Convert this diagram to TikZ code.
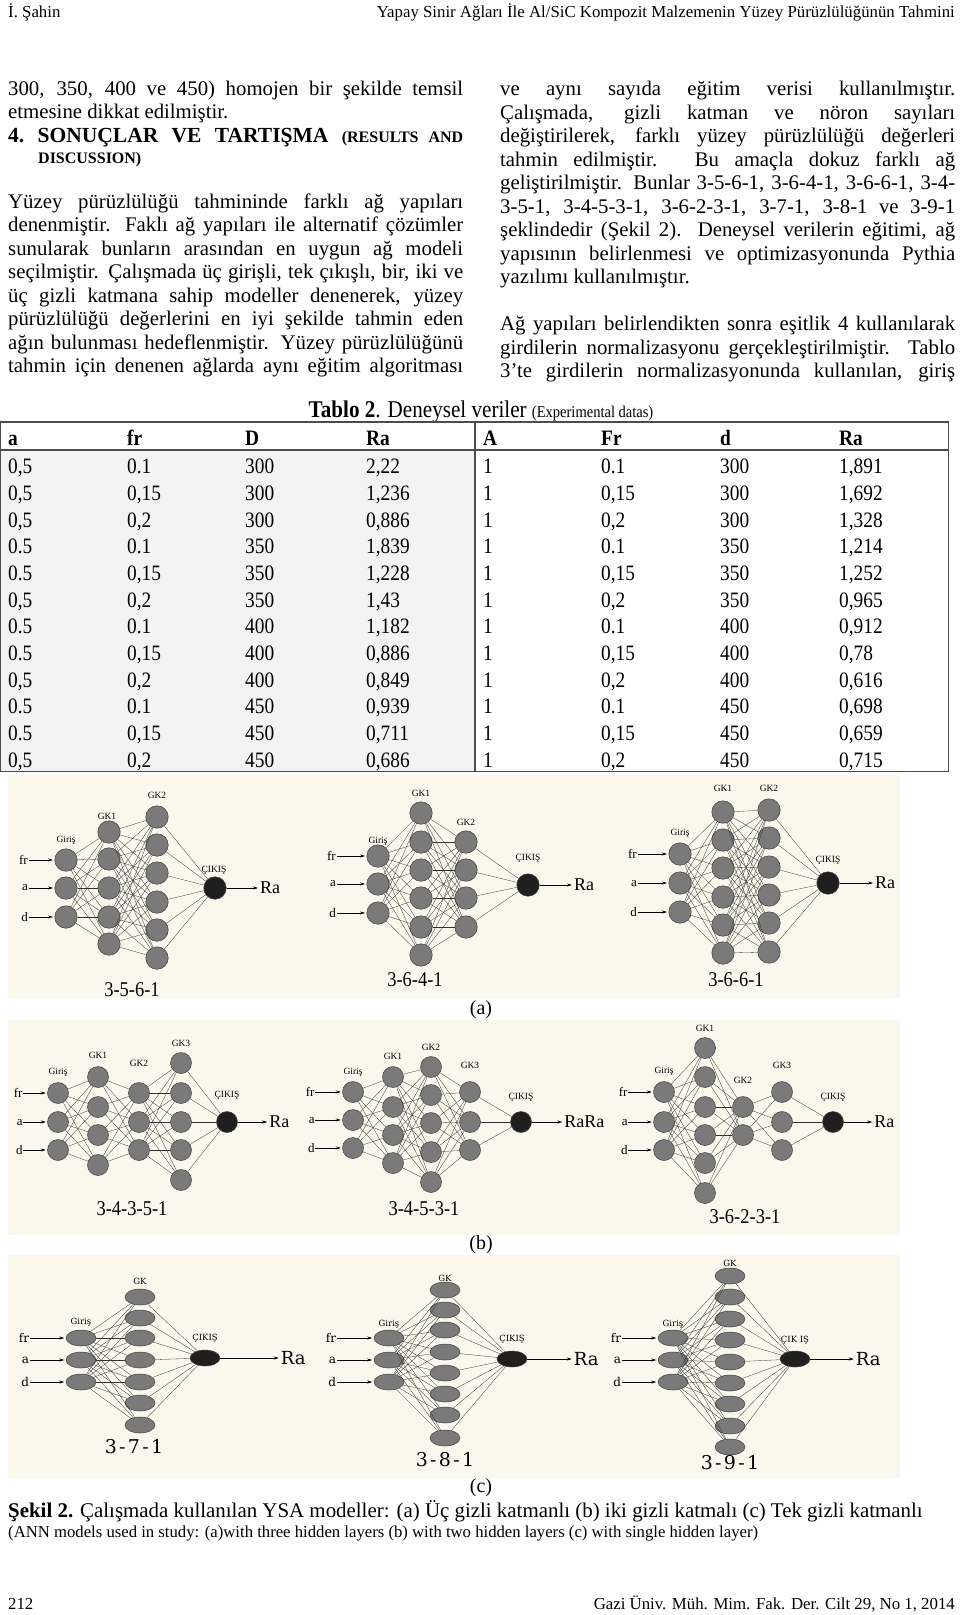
\documentclass[tikz,border=0pt]{standalone}
\usepackage{fontspec}
\setmainfont{Liberation Serif}
\newfontfamily\tabfont[FakeStretch=0.88]{Liberation Serif}
\newfontfamily\dvfont{DejaVu Serif}
\newfontfamily\dvwide[LetterSpace=12]{DejaVu Serif}
\usetikzlibrary{positioning,shapes.geometric,arrows.meta}

\definecolor{paper}{RGB}{250,248,237}
\definecolor{nodegray}{RGB}{122,122,122}
\definecolor{cellgray}{RGB}{243,243,243}

% justified column line
\newcommand\jl[1]{\makebox[455pt][s]{#1}}
% one layer of neurons: <prefix>1, <prefix>2, ...
\newcommand\nlayer[4][]{%
  \foreach \yy [count=\nn] in {#4} \node[neuron,#1] (#2\nn) at (#3,\yy) {};}
% every neuron of one layer to every neuron of the next
\newcommand\nlinks[4]{%
  \foreach \pp in {1,...,#2} \foreach \qq in {1,...,#4} \draw[link] (#1\pp) -- (#3\qq);}
% inputs fr, a, d
\newcommand\nfeed[2]{%
  \node[inlab, left=#2 of #1i1] (#1fr) {fr};
  \node[inlab, left=#2 of #1i2] (#1a) {a};
  \node[inlab, left=#2 of #1i3] (#1d) {d};
  \draw[feed] (#1fr) -- (#1i1);
  \draw[feed] (#1a) -- (#1i2);
  \draw[feed] (#1d) -- (#1i3);}
% output Ra
\newcommand\nemit[3]{%
  \node[outlab, right=#3 of #1o1] (#1ra) {#2};
  \draw[feed] (#1o1) -- (#1ra);}

\begin{document}
\begin{tikzpicture}[x=1pt,y=-1pt,
  txt/.style={anchor=base west, inner sep=0pt, font=\fontsize{20.8}{24}\selectfont},
  hdr/.style={inner sep=0pt, font=\fontsize{16.8}{19}\selectfont},
  cell/.style={anchor=base west, inner sep=0pt, font=\tabfont\fontsize{22}{26}\selectfont},
  rule/.style={draw=black!70, line width=1.3pt},
  neuron/.style={circle, draw=black!75, fill=nodegray, line width=0.5pt, minimum size=22pt, inner sep=0pt},
  outn/.style={fill=black!88},
  link/.style={black!80, line width=0.3pt},
  feed/.style={-{Stealth[length=5pt,width=3pt]}, line width=0.5pt, shorten >=1.5pt},
  inlab/.style={inner sep=0.5pt, font=\fontsize{13}{15}\selectfont},
  outlab/.style={inner sep=0.5pt, font=\fontsize{18}{20}\selectfont},
  laylab/.style={inner sep=0pt, font=\fontsize{9.5}{11}\selectfont},
  netname/.style={inner sep=0pt, font=\tabfont\fontsize{21}{24}\selectfont},
  sub/.style={inner sep=0pt, font=\fontsize{20}{24}\selectfont}]
\path[use as bounding box] (0,0) rectangle (960,1615);
\fill[white] (0,0) rectangle (960,1615);

% running head
\node[hdr, anchor=base west] (head1) at (8,17) {İ. Şahin};
\node[hdr, anchor=base east] (head2) at (955,17) {Yapay Sinir Ağları İle Al/SiC Kompozit Malzemenin Yüzey Pürüzlülüğünün Tahmini};

% left column
\node[txt] (L1) at (8,95) {\jl{300, 350, 400 ve 450) homojen bir şekilde temsil}};
\node[txt] (L2) at (8,118.5) {etmesine dikkat edilmiştir.};
\node[txt, font=\bfseries\fontsize{21.5}{24}\selectfont] (L3) at (8,142) {\jl{4.\ SONUÇLAR VE TARTIŞMA {\fontsize{16}{19}\selectfont(RESULTS AND}}};
\node[txt, font=\bfseries\fontsize{16}{19}\selectfont] (L4) at (38,163) {DISCUSSION)};
\node[txt] (L5) at (8,208) {\jl{Yüzey pürüzlülüğü tahmininde farklı ağ yapıları}};
\node[txt] (L6) at (8,231.5) {\jl{denenmiştir. Faklı ağ yapıları ile alternatif çözümler}};
\node[txt] (L7) at (8,255) {\jl{sunularak bunların arasından en uygun ağ modeli}};
\node[txt] (L8) at (8,278.5) {\jl{seçilmiştir. Çalışmada üç girişli, tek çıkışlı, bir, iki ve}};
\node[txt] (L9) at (8,302) {\jl{üç gizli katmana sahip modeller denenerek, yüzey}};
\node[txt] (L10) at (8,325.5) {\jl{pürüzlülüğü değerlerini en iyi şekilde tahmin eden}};
\node[txt] (L11) at (8,349) {\jl{ağın bulunması hedeflenmiştir. Yüzey pürüzlülüğünü}};
\node[txt] (L12) at (8,372.5) {\jl{tahmin için denenen ağlarda aynı eğitim algoritması}};

% right column
\node[txt] (R1) at (500,95.5) {\jl{ve aynı sayıda eğitim verisi kullanılmıştır.}};
\node[txt] (R2) at (500,119) {\jl{Çalışmada, gizli katman ve nöron sayıları}};
\node[txt] (R3) at (500,142.5) {\jl{değiştirilerek, farklı yüzey pürüzlülüğü değerleri}};
\node[txt] (R4) at (500,166) {\jl{tahmin edilmiştir. Bu amaçla dokuz farklı ağ}};
\node[txt] (R5) at (500,189.5) {\jl{geliştirilmiştir. Bunlar 3-5-6-1, 3-6-4-1, 3-6-6-1, 3-4-}};
\node[txt] (R6) at (500,213) {\jl{3-5-1, 3-4-5-3-1, 3-6-2-3-1, 3-7-1, 3-8-1 ve 3-9-1}};
\node[txt] (R7) at (500,236.5) {\jl{şeklindedir (Şekil 2). Deneysel verilerin eğitimi, ağ}};
\node[txt] (R8) at (500,260) {\jl{yapısının belirlenmesi ve optimizasyonunda Pythia}};
\node[txt] (R9) at (500,283.5) {yazılımı kullanılmıştır.};
\node[txt] (R10) at (500,330.5) {\jl{Ağ yapıları belirlendikten sonra eşitlik 4 kullanılarak}};
\node[txt] (R11) at (500,354) {\jl{girdilerin normalizasyonu gerçekleştirilmiştir. Tablo}};
\node[txt] (R12) at (500,377.5) {\jl{3’te girdilerin normalizasyonunda kullanılan, giriş}};

% table 2
\node[anchor=base, inner sep=0pt, font=\tabfont\fontsize{24}{27}\selectfont] (tcap) at (481,417)
  {\textbf{Tablo 2}. Deneysel veriler {\fontsize{16.5}{19}\selectfont(Experimental datas)}};
\fill[cellgray] (0,450) rectangle (475,771.5);
\draw[rule] (0,422) rectangle (948.6,771.5);
\draw[rule] (0,450) -- (948.6,450);
\draw[rule] (475,422) -- (475,771.5);
\foreach \t/\x [count=\c] in {a/8, fr/127, D/245, Ra/366, A/483, Fr/601, d/720, Ra/839}
  \node[cell, font=\tabfont\bfseries\fontsize{22}{26}\selectfont] (h\c) at (\x,445) {\t};
\foreach \va/\vb/\vc/\vd/\ve/\vf/\vg/\vh [count=\rw] in {
  {0,5}/0.1/300/{2,22}/1/0.1/300/{1,891},
  {0,5}/{0,15}/300/{1,236}/1/{0,15}/300/{1,692},
  {0,5}/{0,2}/300/{0,886}/1/{0,2}/300/{1,328},
  0.5/0.1/350/{1,839}/1/0.1/350/{1,214},
  0.5/{0,15}/350/{1,228}/1/{0,15}/350/{1,252},
  {0,5}/{0,2}/350/{1,43}/1/{0,2}/350/{0,965},
  0.5/0.1/400/{1,182}/1/0.1/400/{0,912},
  0.5/{0,15}/400/{0,886}/1/{0,15}/400/{0,78},
  {0,5}/{0,2}/400/{0,849}/1/{0,2}/400/{0,616},
  0.5/0.1/450/{0,939}/1/0.1/450/{0,698},
  0.5/{0,15}/450/{0,711}/1/{0,15}/450/{0,659},
  {0,5}/{0,2}/450/{0,686}/1/{0,2}/450/{0,715}}{
  \pgfmathsetmacro\yb{473.6+26.7*(\rw-1)}
  \node[cell] (r\rw-1) at (8,\yb) {\va};
  \node[cell] (r\rw-2) at (127,\yb) {\vb};
  \node[cell] (r\rw-3) at (245,\yb) {\vc};
  \node[cell] (r\rw-4) at (366,\yb) {\vd};
  \node[cell] (r\rw-5) at (483,\yb) {\ve};
  \node[cell] (r\rw-6) at (601,\yb) {\vf};
  \node[cell] (r\rw-7) at (720,\yb) {\vg};
  \node[cell] (r\rw-8) at (839,\yb) {\vh};
}

% figure backgrounds
\fill[paper] (8,775) rectangle (900,998);
\fill[paper] (8,1020) rectangle (900,1235);
\fill[paper] (8,1255) rectangle (900,1478);

% (a) three hidden layers
\begin{scope}[neuron/.append style={minimum size=22.5pt}]
% 3-5-6-1
\nlayer{p1i}{66}{860,888,917}
\nlayer{p1h}{109}{832,859,888,917,944}
\nlayer{p1k}{157}{817,845,873,902,930,958}
\nlayer[outn]{p1o}{215}{888}
\nlinks{p1i}{3}{p1h}{5}
\nlinks{p1h}{5}{p1k}{6}
\nlinks{p1k}{6}{p1o}{1}
\nfeed{p1}{26pt}
\nemit{p1}{Ra}{33pt}
\node[laylab] (p1g0) at (66,840) {Giriş};
\node[laylab] (p1g1) at (107,816) {GK1};
\node[laylab] (p1g2) at (157,795) {GK2};
\node[laylab] (p1g3) at (214,870) {ÇIKIŞ};
\node[netname] (p1n) at (132,990) {3-5-6-1};
% 3-6-4-1
\nlayer{p2i}{378}{856,884,913}
\nlayer{p2h}{421}{813,842,870,898,927,955}
\nlayer{p2k}{466}{842,870,898,927}
\nlayer[outn]{p2o}{528}{885}
\nlinks{p2i}{3}{p2h}{6}
\nlinks{p2h}{6}{p2k}{4}
\nlinks{p2k}{4}{p2o}{1}
\nfeed{p2}{30pt}
\nemit{p2}{Ra}{34pt}
\node[laylab] (p2g0) at (378,841) {Giriş};
\node[laylab] (p2g1) at (421,793) {GK1};
\node[laylab] (p2g2) at (466,822) {GK2};
\node[laylab] (p2g3) at (528,858) {ÇIKIŞ};
\node[netname] (p2n) at (415,980) {3-6-4-1};
% 3-6-6-1
\nlayer{p3i}{680}{854,883,912}
\nlayer{p3h}{723}{812,840,868,897,925,953}
\nlayer{p3k}{769}{810,838,867,895,923,952}
\nlayer[outn]{p3o}{828}{883}
\nlinks{p3i}{3}{p3h}{6}
\nlinks{p3h}{6}{p3k}{6}
\nlinks{p3k}{6}{p3o}{1}
\nfeed{p3}{31pt}
\nemit{p3}{Ra}{35pt}
\node[laylab] (p3g0) at (680,833) {Giriş};
\node[laylab] (p3g1) at (723,788) {GK1};
\node[laylab] (p3g2) at (769,788) {GK2};
\node[laylab] (p3g3) at (828,860) {ÇIKIŞ};
\node[netname] (p3n) at (736,980) {3-6-6-1};
\end{scope}
\node[sub] (suba) at (481,1010) {(a)};

% (b) two hidden layers
\begin{scope}[neuron/.append style={minimum size=21pt}]
% 3-4-3-5-1
\nlayer{p4i}{58}{1093,1122,1150}
\nlayer{p4h}{98}{1077,1107,1135,1165}
\nlayer{p4k}{139}{1093,1122,1150}
\nlayer{p4m}{181}{1063,1093,1122,1150,1180}
\nlayer[outn]{p4o}{227}{1122}
\nlinks{p4i}{3}{p4h}{4}
\nlinks{p4h}{4}{p4k}{3}
\nlinks{p4k}{3}{p4m}{5}
\nlinks{p4m}{5}{p4o}{1}
\nfeed{p4}{24pt}
\nemit{p4}{Ra}{31pt}
\node[laylab] (p4g0) at (58,1072) {Giriş};
\node[laylab] (p4g1) at (98,1055) {GK1};
\node[laylab] (p4g2) at (139,1063) {GK2};
\node[laylab] (p4g3) at (181,1043) {GK3};
\node[laylab] (p4g4) at (227,1095) {ÇIKIŞ};
\node[netname] (p4n) at (132,1209) {3-4-3-5-1};
% 3-4-5-3-1
\nlayer{p5i}{353}{1092,1120,1148}
\nlayer{p5h}{393}{1077,1107,1135,1163}
\nlayer{p5k}{431}{1067,1095,1123,1152,1182}
\nlayer{p5m}{470}{1092,1122,1150}
\nlayer[outn]{p5o}{521}{1122}
\nlinks{p5i}{3}{p5h}{4}
\nlinks{p5h}{4}{p5k}{5}
\nlinks{p5k}{5}{p5m}{3}
\nlinks{p5m}{3}{p5o}{1}
\nfeed{p5}{27pt}
\nemit{p5}{RaRa}{32pt}
\node[laylab] (p5g0) at (353,1072) {Giriş};
\node[laylab] (p5g1) at (393,1056) {GK1};
\node[laylab] (p5g2) at (431,1047) {GK2};
\node[laylab] (p5g3) at (470,1065) {GK3};
\node[laylab] (p5g4) at (521,1097) {ÇIKIŞ};
\node[netname] (p5n) at (424,1209) {3-4-5-3-1};
% 3-6-2-3-1
\nlayer{p6i}{664}{1092,1122,1150}
\nlayer{p6h}{705}{1048,1077,1107,1135,1163,1193}
\nlayer{p6k}{743}{1107,1135}
\nlayer{p6m}{782}{1092,1122,1150}
\nlayer[outn]{p6o}{833}{1122}
\nlinks{p6i}{3}{p6h}{6}
\nlinks{p6h}{6}{p6k}{2}
\nlinks{p6k}{2}{p6m}{3}
\nlinks{p6m}{3}{p6o}{1}
\nfeed{p6}{25pt}
\nemit{p6}{Ra}{30pt}
\node[laylab] (p6g0) at (664,1071) {Giriş};
\node[laylab] (p6g1) at (705,1028) {GK1};
\node[laylab] (p6g2) at (743,1080) {GK2};
\node[laylab] (p6g3) at (782,1065) {GK3};
\node[laylab] (p6g4) at (833,1097) {ÇIKIŞ};
\node[netname] (p6n) at (745,1217) {3-6-2-3-1};
\end{scope}
\node[sub] (subb) at (481,1245) {(b)};

% (c) one hidden layer
\begin{scope}[neuron/.append style={ellipse, minimum width=30pt, minimum height=16pt},
  inlab/.append style={font=\dvfont\fontsize{12}{14}\selectfont},
  outlab/.append style={font=\dvfont\fontsize{18}{20}\selectfont},
  laylab/.append style={font=\dvfont\fontsize{8.5}{10}\selectfont},
  netname/.append style={font=\dvwide\fontsize{19}{22}\selectfont}]
% 3-7-1
\nlayer{p7i}{81}{1338,1360,1382}
\nlayer{p7h}{140}{1297,1318,1338,1360,1382,1403,1425}
\nlayer[outn]{p7o}{205}{1358}
\nlinks{p7i}{3}{p7h}{7}
\nlinks{p7h}{7}{p7o}{1}
\nfeed{p7}{36pt}
\nemit{p7}{Ra}{60pt}
\node[laylab] (p7g0) at (81,1322) {Giriş};
\node[laylab] (p7g1) at (140,1281) {GK};
\node[laylab] (p7g2) at (205,1338) {ÇIKIŞ};
\node[netname] (p7n) at (134,1447) {3-7-1};
% 3-8-1
\nlayer{p8i}{389}{1338,1360,1382}
\nlayer{p8h}{445}{1290,1310,1330,1352,1373,1394,1415,1438}
\nlayer[outn]{p8o}{512}{1359}
\nlinks{p8i}{3}{p8h}{8}
\nlinks{p8h}{8}{p8o}{1}
\nfeed{p8}{37pt}
\nemit{p8}{Ra}{46pt}
\node[laylab] (p8g0) at (389,1324) {Giriş};
\node[laylab] (p8g1) at (445,1278) {GK};
\node[laylab] (p8g2) at (512,1339) {ÇIKIŞ};
\node[netname] (p8n) at (445,1460) {3-8-1};
% 3-9-1
\nlayer{p9i}{673}{1338,1360,1382}
\nlayer{p9h}{730}{1276,1297,1319,1340,1362,1383,1404,1426,1447}
\nlayer[outn]{p9o}{795}{1359}
\nlinks{p9i}{3}{p9h}{9}
\nlinks{p9h}{9}{p9o}{1}
\nfeed{p9}{36pt}
\nemit{p9}{Ra}{45pt}
\node[laylab] (p9g0) at (673,1324) {Giriş};
\node[laylab] (p9g1) at (730,1263) {GK};
\node[laylab] (p9g2) at (795,1340) {ÇIK IŞ};
\node[netname] (p9n) at (730,1463) {3-9-1};
\end{scope}
\node[sub] (subc) at (481,1488) {(c)};

% figure caption
\node[txt, font=\fontsize{20.9}{24}\selectfont] (fcap) at (8,1517)
  {\textbf{Şekil 2.} Çalışmada kullanılan YSA modeller: (a) Üç gizli katmanlı (b) iki gizli katmalı (c) Tek gizli katmanlı};
\node[txt, font=\fontsize{16.7}{19}\selectfont] (fcapen) at (8,1537)
  {(ANN models used in study: (a)with three hidden layers (b) with two hidden layers (c) with single hidden layer)};

% foot line
\node[hdr, anchor=base west] (foot1) at (8,1609) {212};
\node[hdr, anchor=base east] (foot2) at (955,1609) {Gazi Üniv. Müh. Mim. Fak. Der. Cilt 29, No 1, 2014};
\end{tikzpicture}
\end{document}
